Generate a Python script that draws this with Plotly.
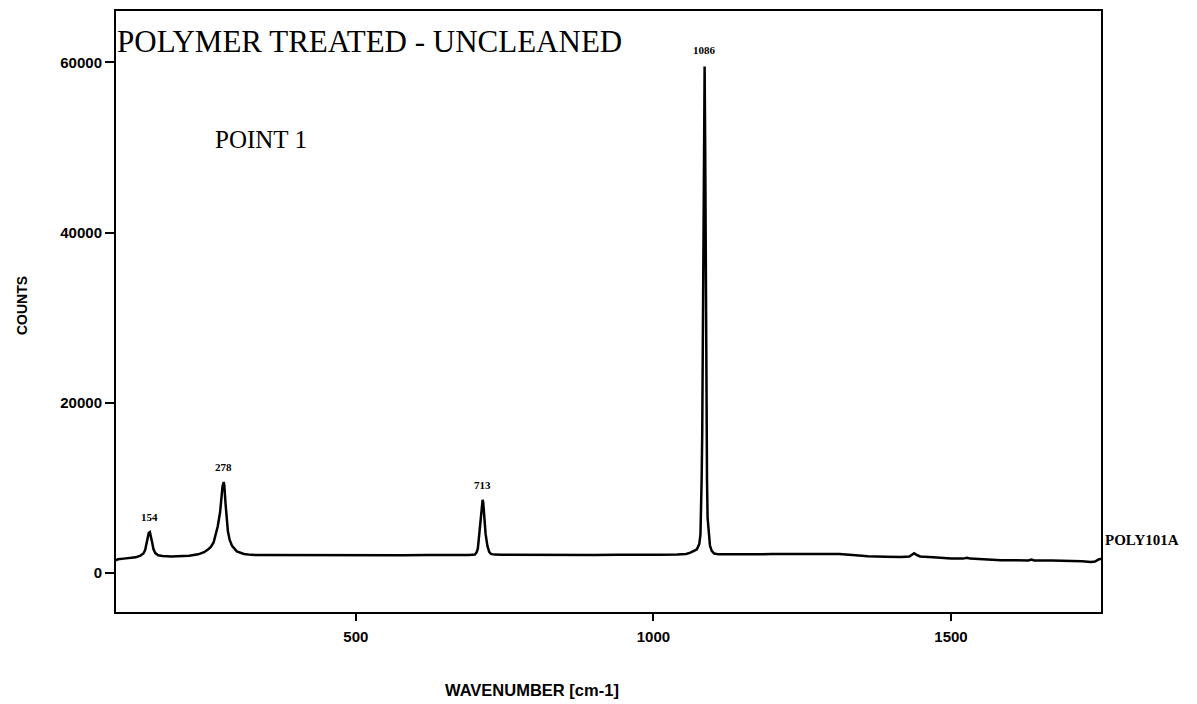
import plotly.graph_objects as go

# Raman spectrum, sample POLY101A (wavenumber in cm-1, intensity in counts)
wavenumber = [
    97, 100, 110, 120, 130, 138, 143, 146, 148, 150, 152, 154, 156, 158, 160, 163, 168, 175,
    190, 205, 220, 235, 245, 252, 256, 261, 264, 268, 272, 274, 276, 278, 279, 281, 283, 285,
    288, 292, 300, 312, 324, 350, 380, 400, 430, 460, 500, 540, 580, 620, 660, 690,
    700, 703, 705, 707, 709, 711, 713, 714, 716, 718, 721, 724, 727, 733, 745,
    780, 820, 860, 900, 940, 980, 1010, 1040, 1055, 1062, 1066, 1069, 1073, 1077, 1079,
    1080, 1081, 1082, 1083, 1084, 1085, 1086, 1087, 1088, 1089, 1090, 1091, 1093, 1095,
    1098, 1102, 1110, 1120, 1150, 1200, 1245, 1280, 1312, 1340, 1360, 1390, 1416, 1430,
    1435, 1438, 1442, 1448, 1470, 1500, 1520, 1527, 1532, 1560, 1584, 1610, 1630, 1635,
    1640, 1670, 1696, 1720, 1735, 1742, 1748, 1752,
]
counts = [
    1500, 1620, 1700, 1760, 1850, 2050, 2300, 2700, 3300, 4100, 4700, 4800, 4300, 3500, 2800, 2350, 2100, 2000,
    1960, 1990, 2050, 2200, 2450, 2800, 3050, 3600, 4300, 5500, 7200, 8800, 10200, 10700, 10300, 8200, 6200, 4900,
    3900, 3200, 2550, 2250, 2140, 2130, 2150, 2120, 2140, 2110, 2130, 2120, 2100, 2130, 2110, 2120,
    2180, 2460, 2900, 4200, 5800, 7600, 8600, 8300, 6300, 4600, 3200, 2500, 2250, 2170, 2150,
    2130, 2150, 2120, 2120, 2140, 2110, 2150, 2180, 2250, 2400, 2600, 2650, 2800, 3400, 4500,
    7000, 11000, 16500, 25000, 37000, 52000, 59500, 50000, 33000, 19000, 11000, 6500, 4200, 3200,
    2600, 2300, 2200, 2180, 2200, 2230, 2250, 2270, 2250, 2100, 1980, 1930, 1880, 1950,
    2200, 2340, 2150, 1950, 1850, 1700, 1700, 1800, 1700, 1600, 1500, 1520, 1480, 1600,
    1480, 1470, 1450, 1400, 1300, 1350, 1600, 1700,
]

# Labelled band positions
peak_positions = [154, 278, 713, 1086]
peak_heights = [4800, 10700, 8600, 59500]
peak_yshift = [7, 7, 7, 9]

x_range = [97, 1752]
y_range = [-4570, 66020]
x_ticks = [500, 1000, 1500]
y_ticks = [0, 20000, 40000, 60000]
y_tick_labels = ["0", "20000", "40000", "60000"]

serif = "Liberation Serif"
sans = "Liberation Sans"

fig = go.Figure()
fig.add_trace(go.Scatter(
    x=wavenumber, y=counts, mode="lines",
    line=dict(color="black", width=2.5),
    hoverinfo="skip", showlegend=False,
))

annotations = []
for px, py, ys in zip(peak_positions, peak_heights, peak_yshift):
    annotations.append(dict(
        x=px, y=py, xref="x", yref="y", text=str(px), showarrow=False,
        xanchor="center", yanchor="bottom", yshift=ys,
        font=dict(family=serif, size=11, color="black", weight="bold"),
    ))

annotations += [
    dict(x=0, y=0.949, xref="paper", yref="paper", text="POLYMER TREATED - UNCLEANED",
         showarrow=False, xanchor="left", yanchor="middle", xshift=-1,
         font=dict(family=serif, size=31, color="black")),
    dict(x=0.0985, y=0.7866, xref="paper", yref="paper", text="POINT 1",
         showarrow=False, xanchor="left", yanchor="middle",
         font=dict(family=serif, size=25, color="black")),
    dict(x=1, y=0.1194, xref="paper", yref="paper", text="POLY101A",
         showarrow=False, xanchor="left", yanchor="middle", xshift=2,
         font=dict(family=serif, size=15, color="black", weight="bold")),
    dict(x=0, y=0.509, xref="paper", yref="paper", text="COUNTS",
         showarrow=False, xanchor="center", yanchor="middle", xshift=-94,
         textangle=-90, font=dict(family=sans, size=14, color="black", weight="bold")),
    dict(x=0.4223, y=-0.129, xref="paper", yref="paper", text="WAVENUMBER [cm-1]",
         showarrow=False, xanchor="center", yanchor="middle",
         font=dict(family=sans, size=16.5, color="black", weight="bold")),
]

axis_common = dict(
    showgrid=False, zeroline=False, showline=True, linecolor="black", linewidth=2,
    mirror=True, ticks="outside", tickcolor="black", tickwidth=1.5,
    tickfont=dict(family=sans, size=15, color="black", weight="bold"),
)

fig.update_layout(
    width=1197, height=704,
    margin=dict(l=116, r=96, t=9, b=92),
    paper_bgcolor="white", plot_bgcolor="white",
    xaxis=dict(range=x_range, tickvals=x_ticks, ticklen=7, ticklabelstandoff=3, **axis_common),
    yaxis=dict(range=y_range, tickvals=y_ticks, ticktext=y_tick_labels, ticklen=9,
               ticklabelstandoff=0, **axis_common),
    annotations=annotations,
    showlegend=False,
)

fig.write_html("out.html")
